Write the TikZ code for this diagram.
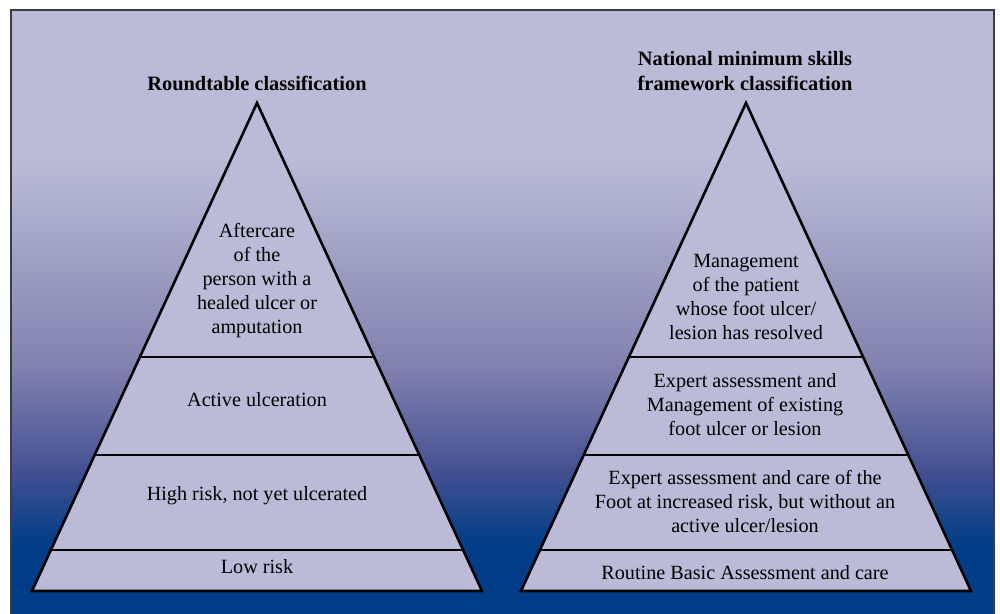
\documentclass[tikz,border=0pt]{standalone}
\usepackage{fontspec}
\setmainfont{Liberation Serif}
\usetikzlibrary{calc}
\definecolor{lav}{RGB}{187,187,215}
\definecolor{midblue}{RGB}{128,128,174}
\definecolor{lowblue}{RGB}{68,80,145}
\definecolor{navy}{RGB}{0,61,134}
\definecolor{framegray}{RGB}{60,60,70}
\tikzset{
  pyr/.style = {draw = black, fill = lav, line width = 1.3pt, line join = miter},
  tier/.style = {draw = black, line width = 0.7pt},
  lvl/.style = {align = center, font = \fontsize{10.1}{12}\selectfont, inner sep = 0pt},
  ttl/.style = {align = center, font = \fontsize{10.2}{12.5}\selectfont\bfseries, inner sep = 0pt}
}
\begin{document}
\begin{tikzpicture}[x = 0.5pt, y = -0.5pt]
    \useasboundingbox (0,0) rectangle (1000,614);
    % background panel
    \fill[lav] (11,10) rectangle (994,161);
    \shade[top color = lav, bottom color = midblue] (11,160) rectangle (994,371);
    \shade[top color = midblue, bottom color = lowblue] (11,370) rectangle (994,471);
    \shade[top color = lowblue, bottom color = navy] (11,470) rectangle (994,546);
    \fill[navy] (11,545) rectangle (994,614);
    \draw[framegray, line width = 0.6pt] (11,614) -- (11,10) -- (994,10) -- (994,614);
    % left pyramid
    \coordinate (lA) at (257,103);
    \coordinate (lL) at (32,591);
    \coordinate (lR) at (482,591);
    \draw[pyr] (lA) -- (lL) -- (lR) -- cycle;
    \foreach \t in {0.5205, 0.7213, 0.916}
        \draw[tier] ($(lA)!\t!(lL)$) -- ($(lA)!\t!(lR)$);
    % right pyramid
    \coordinate (rA) at (746,103);
    \coordinate (rL) at (521,591);
    \coordinate (rR) at (971,591);
    \draw[pyr] (rA) -- (rL) -- (rR) -- cycle;
    \foreach \t in {0.5205, 0.7213, 0.916}
        \draw[tier] ($(rA)!\t!(rL)$) -- ($(rA)!\t!(rR)$);
    % titles
    \node[ttl] (lTitle) at (257,83) {Roundtable classification};
    \node[ttl] (rTitle) at (745,71) {National minimum skills\\framework classification};
    % left levels
    \node[lvl] (lTop) at (257,281) {Aftercare\\of the\\person with a\\healed ulcer or\\amputation};
    \node[lvl] (lActive) at (257,400) {Active ulceration};
    \node[lvl] (lHigh) at (257,496) {High risk, not yet ulcerated};
    \node[lvl] (lLow) at (257,567) {Low risk};
    % right levels
    \node[lvl] (rTop) at (746,297) {Management\\of the patient\\whose foot ulcer/\\lesion has resolved};
    \node[lvl] (rExisting) at (745,405) {Expert assessment and\\Management of existing\\foot ulcer or lesion};
    \node[lvl] (rRisk) at (745,501) {Expert assessment and care of the\\Foot at increased risk, but without an\\active ulcer/lesion};
    \node[lvl] (rBasic) at (745,573) {Routine Basic Assessment and care};
\end{tikzpicture}
\end{document}
